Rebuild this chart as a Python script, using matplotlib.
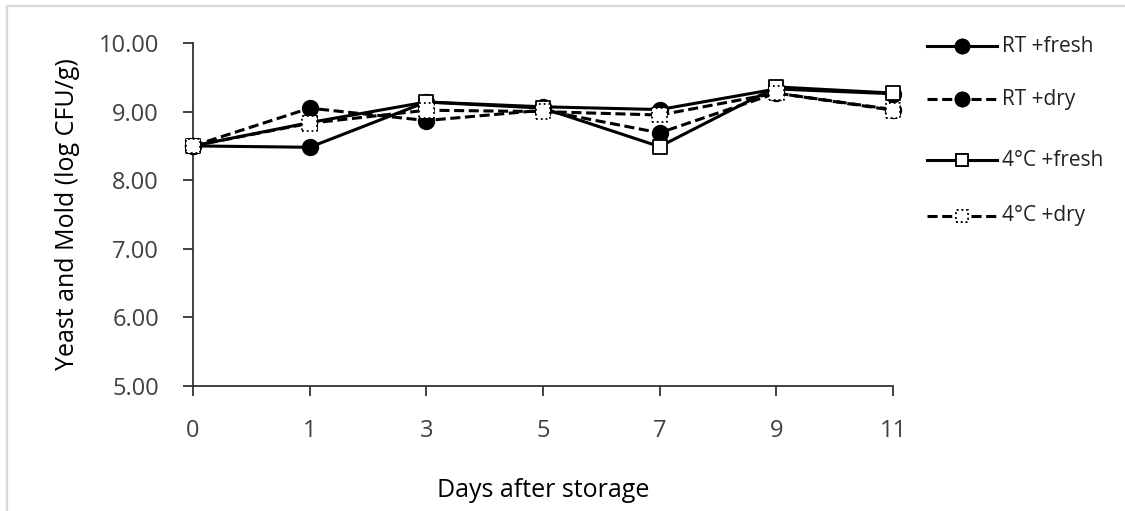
import matplotlib
matplotlib.use("Agg")
import matplotlib.pyplot as plt
from matplotlib.lines import Line2D

plt.rcParams['font.family'] = ['Open Sans', 'DejaVu Sans']

days = ['0', '1', '3', '5', '7', '9', '11']
rt_fresh = [8.50, 8.48, 9.14, 9.07, 9.03, 9.33, 9.26]
rt_dry = [8.50, 9.05, 8.87, 9.02, 8.69, 9.27, 9.03]
c4_fresh = [8.50, 8.84, 9.14, 9.05, 8.49, 9.36, 9.27]
c4_dry = [8.50, 8.83, 9.02, 9.00, 8.95, 9.27, 9.02]

labels = ['RT +fresh', 'RT +dry', '4°C +fresh', '4°C +dry']
series = [rt_fresh, rt_dry, c4_fresh, c4_dry]
solid = '-'
dashed = (0, (3.3, 1.5))
styles = [
    dict(ls=solid, marker='o', fill='black', edge='-'),
    dict(ls=dashed, marker='o', fill='black', edge='-'),
    dict(ls=solid, marker='s', fill='white', edge='-'),
    dict(ls=dashed, marker='s', fill='white', edge=':'),
]

fig = plt.figure(figsize=(11.25, 5.11), dpi=100)
ax = fig.add_axes([193 / 1125, 1 - 386 / 511, 700 / 1125, 343 / 511])

x = list(range(len(days)))
for i, (vals, st) in enumerate(zip(series, styles)):
    ax.plot(x, vals, color='black', lw=2.2, linestyle=st['ls'], zorder=2 + i * 2,
            clip_on=False, solid_joinstyle='round')
    ms = 125 if st['marker'] == 'o' else 110
    ax.scatter(x, vals, s=ms, marker=st['marker'], facecolors=st['fill'],
               edgecolors='black', linewidths=1.3, linestyles=st['edge'],
               zorder=3 + i * 2, clip_on=False)

ax.set_xlim(0, 6)
ax.set_ylim(5, 10)
ax.set_xticks(x)
ax.set_xticklabels(days)
ax.set_yticks([5, 6, 7, 8, 9, 10])
ax.set_yticklabels([f'{v:.2f}' for v in [5, 6, 7, 8, 9, 10]])
for side in ['top', 'right']:
    ax.spines[side].set_visible(False)
for side in ['left', 'bottom']:
    ax.spines[side].set_linewidth(1.3)
    ax.spines[side].set_color('#333333')
ax.tick_params(axis='both', direction='out', length=7.5, width=1.3, color='#333333',
               labelsize=17, labelcolor='#404040')
ax.tick_params(axis='x', pad=16)
ax.tick_params(axis='y', pad=17)

ax.set_xlabel('Days after storage', fontsize=18, color='black')
ax.set_ylabel('Yeast and Mold (log CFU/g)', fontsize=18, color='black')
ax.xaxis.set_label_coords(0.5, -0.268)
ax.yaxis.set_label_coords(-0.161, 0.5)

# legend drawn by hand to the right of the plot
leg_y = [46, 99, 160, 216]
for lab, st, yp in zip(labels, styles, leg_y):
    yf = 1 - yp / 511
    fig.add_artist(Line2D([927 / 1125, 997 / 1125], [yf, yf], color='black', lw=2.2,
                          linestyle=st['ls']))
    fig.text(1002 / 1125, yf, lab, fontsize=15, va='center', ha='left', color='#222222')
    ms = 100 if st['marker'] == 'o' else 85
    fig.add_artist(plt.scatter([962 / 1125], [yf], s=ms, marker=st['marker'],
                               facecolors=st['fill'], edgecolors='black', linewidths=1.3,
                               linestyles=st['edge'], transform=fig.transFigure,
                               clip_on=False, zorder=10))

# light outer frame on the left and top edges
fig.add_artist(Line2D([7 / 1125, 7 / 1125], [0, 1 - 6 / 511], color='#d9d9d9', lw=1.6))
fig.add_artist(Line2D([7 / 1125, 1], [1 - 6 / 511, 1 - 6 / 511], color='#d9d9d9', lw=1.6))

fig.savefig('out.png', dpi=100)
